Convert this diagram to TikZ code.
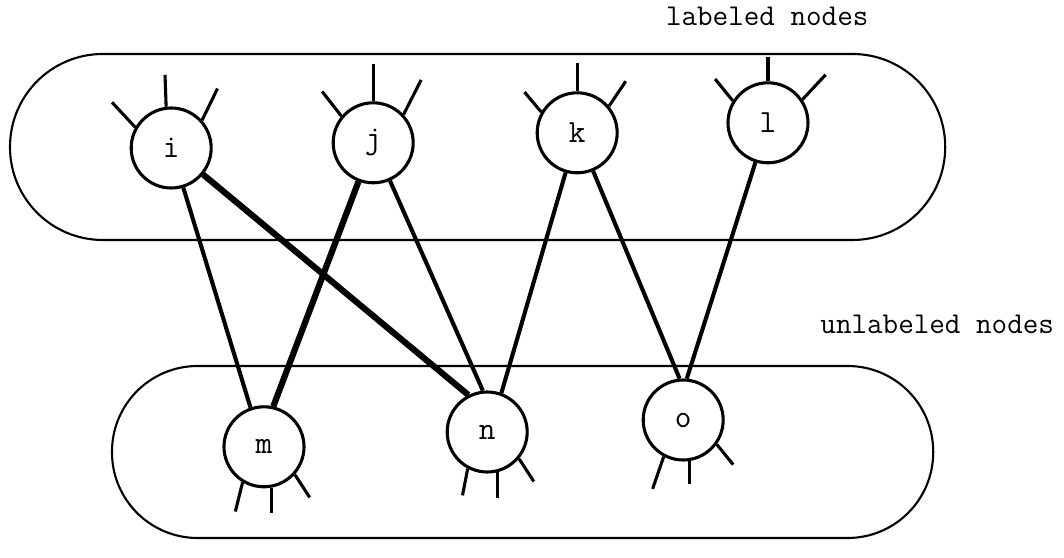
\documentclass[tikz,border=0pt]{standalone}
\usepackage{tikz}

\begin{document}
\begin{tikzpicture}[
    unit/.style={circle, draw, line width=2.2pt, minimum size=2cm, inner sep=0pt,
                 font=\fontsize{23}{26}\selectfont\ttfamily},
    stub/.style={line width=2.2pt},
    link/.style={line width=2.9pt},
    strong link/.style={line width=4.4pt},
    group/.style={line width=1.5pt},
    caption/.style={font=\fontsize{21.5}{25}\selectfont\ttfamily}
  ]
  \useasboundingbox (0,0) rectangle (26.6,13.95);

  % the two sets of nodes
  \draw[group, rounded corners=2.32cm] (0.25,7.95) rectangle (23.63,12.6);
  \draw[group, rounded corners=2.14cm] (2.8,0.5) rectangle (23.33,4.8);
  \node[caption] (lab) at (19.18,13.55) {labeled nodes};
  \node[caption] (unlab) at (23.43,5.83) {unlabeled nodes};

  % labeled nodes
  \node[unit] (i) at (4.28,10.25) {i};
  \node[unit] (j) at (9.33,10.38) {j};
  \node[unit] (k) at (14.43,10.63) {k};
  \node[unit] (l) at (19.2,10.88) {l};
  % unlabeled nodes
  \node[unit] (m) at (6.6,2.78) {m};
  \node[unit] (n) at (12.18,3.15) {n};
  \node[unit] (o) at (17.08,3.45) {o};

  % loose ends: border angle / direction / length
  \foreach \a/\d/\len in {150/133/0.85, 97/92/0.8, 42/64/0.88}
    \draw[stub] (i.\a) -- ++(\d:\len);
  \foreach \a/\d/\len in {140/128/0.78, 90/90/0.92, 43/63/0.97}
    \draw[stub] (j.\a) -- ++(\d:\len);
  \foreach \a/\d/\len in {150/130/0.65, 90/90/0.7, 40/56/0.75}
    \draw[stub] (k.\a) -- ++(\d:\len);
  \foreach \a/\d/\len in {148/129/0.7, 90/90/0.6, 34/47/0.85}
    \draw[stub] (l.\a) -- ++(\d:\len);
  \foreach \a/\d/\len in {239/256/0.75, 280/270/0.63, 318/303/0.68}
    \draw[stub] (m.\a) -- ++(\d:\len);
  \foreach \a/\d/\len in {242/259/0.68, 284/270/0.63, 320/303/0.68}
    \draw[stub] (n.\a) -- ++(\d:\len);
  \foreach \a/\d/\len in {242/251/0.85, 279/270/0.58, 324/309/0.65}
    \draw[stub] (o.\a) -- ++(\d:\len);

  % links between the two sets
  \draw[link] (i) -- (m.109);
  \draw[strong link] (i) -- (n.117);
  \draw[strong link] (j) -- (m.77);
  \draw[link] (j) -- (n.96);
  \draw[link] (k) -- (n.70);
  \draw[link] (k) -- (o.95);
  \draw[link] (l) -- (o.85);
\end{tikzpicture}
\end{document}
